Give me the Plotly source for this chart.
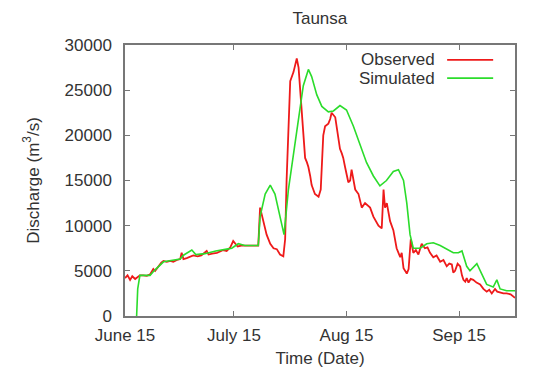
import pandas as pd
import plotly.graph_objects as go

start_date = "2010-06-15"

obs_day = [0, 0.7, 1.4, 2, 2.8, 3.5, 4.1, 5, 6, 6.9, 7.8, 8.3, 9.2, 10, 10.6, 11.5, 12.5, 13.3, 14.3, 15.2,
           15.6, 16.1, 17, 18, 18.8, 20, 21, 22.5, 23, 24, 25.3, 26.5, 27, 28, 29, 29.8, 30.3, 31, 32, 33.5,
           35, 36.7, 37.2, 38.1, 39, 40, 40.9, 41.8, 42.7, 43.6, 44.1, 44.5, 45.5, 46.4, 47.3, 47.8, 48.7,
           49.6, 50.1, 50.5, 51, 51.4, 52.3, 53.3, 53.9, 54.6, 55.1, 56, 56.5, 56.9, 57.9, 58.8, 59.2, 59.7,
           60.1, 60.6, 61.5, 62, 62.4, 63.4, 64.3, 65.2, 66.1, 67.5, 68.4, 69.8, 70.7, 71.2, 71.6, 72.1, 73,
           73.9, 74.8, 75.8, 76.2, 76.7, 77.6, 78.1, 78.7, 79.4, 80.1, 80.8, 81.7, 82.6, 83.3, 84, 84.9, 85.8,
           86.8, 87.7, 88.6, 89.3, 90, 90.4, 90.9, 91.6, 92.3, 92.8, 93.2, 93.7, 94.1, 94.6, 95.2, 95.9, 96.8,
           97.8, 98.7, 99.6, 100.3, 101, 101.9, 102.5, 103.3, 104.2, 105.1, 106.2, 107.4]
obs_val = [4200, 4500, 4000, 4400, 4100, 4300, 4500, 4500, 4450, 4600, 5200, 5000, 5500, 5900, 6100, 6000, 6100, 6000, 6200, 6300,
           7000, 6300, 6400, 6600, 6700, 6600, 6700, 7200, 6800, 6900, 7000, 7200, 7300, 7200, 7600, 8300, 8000, 7700, 7800, 7800,
           7800, 7800, 12000, 10500, 9000, 8000, 7500, 7400, 6800, 6600, 8500, 15000, 26000, 27000, 28500, 27500, 22000,
           17500, 17000, 16500, 15500, 14500, 13500, 13200, 14000, 20000, 21000, 21300, 21800, 22500, 22000, 19500, 18500, 18000,
           17500, 16500, 14800, 15000, 16200, 14000, 13500, 12000, 12500, 12000, 11000, 10000, 9700, 14000, 12000, 12500, 10500,
           9500, 7500, 6500, 7000, 5300, 4700, 5200, 8500, 7000, 7300, 6800, 8000, 7500, 7600, 7000, 6500, 6700,
           6000, 6200, 5500, 5800, 5700, 4800, 5000, 5800, 5500, 4500, 4000, 3800, 4200, 3700, 4100, 4000, 3700,
           3500, 3000, 2700, 2900, 2500, 3000, 2700, 2600, 2500, 2500, 2400, 2000]

sim_day = [3.2, 3.5, 4.1, 6.9, 8, 10.6, 15.2, 16, 18.4, 19.5, 22, 25, 28, 29.4, 31.2, 33, 36.7, 37.2, 38.6, 40,
           41.3, 42.7, 43.8, 45, 46.4, 47.8, 49.1, 50.5, 51.4, 52.8, 54.2, 56, 57.4, 59.2, 61, 62.9, 64.7, 66.5,
           68.4, 70.2, 72, 73.9, 75.3, 76.7, 77.6, 78.5, 79.4, 81.3, 83.1, 84.9, 86.8, 88.6, 90.4, 91.8, 92.8,
           94.1, 95, 96.9, 98.3, 99.6, 101.4, 102.4, 103.3, 105.1, 107.4]
sim_val = [0, 3000, 4500, 4500, 5000, 6000, 6300, 6700, 7300, 6800, 6900, 7200, 7400, 7500, 8000, 7800, 7800, 11000, 13500, 14500,
           13500, 11000, 9000, 14000, 18000, 22000, 25500, 27300, 26500, 24500, 23200, 22600, 22700, 23300, 22800, 21000, 19000, 17000,
           15500, 14400, 15000, 16000, 16200, 15000, 12500, 9000, 7500, 7500, 8000, 8100, 7800, 7400, 7000, 7000, 7200,
           5500, 5000, 5800, 4500, 3500, 3200, 4000, 3000, 2800, 2800]

tick_dates = ["2010-06-15", "2010-07-15", "2010-08-15", "2010-09-15"]
tick_text = ["June 15", "July 15", "Aug 15", "Sep 15"]
y_ticks = [0, 5000, 10000, 15000, 20000, 25000, 30000]

t0 = pd.Timestamp(start_date)
obs_x = [t0 + pd.Timedelta(days=d) for d in obs_day]
sim_x = [t0 + pd.Timedelta(days=d) for d in sim_day]

RED = "#ee1a1a"
GREEN = "#2bdc2b"
TXT = "#333333"
FONT = "Liberation Sans, Arial, sans-serif"
FS = 17

fig = go.Figure()
fig.add_trace(go.Scatter(x=obs_x, y=obs_val, mode="lines", line=dict(color=RED, width=1.8), name="Observed"))
fig.add_trace(go.Scatter(x=sim_x, y=sim_val, mode="lines", line=dict(color=GREEN, width=1.6), name="Simulated"))

axis_common = dict(showline=True, linecolor="#777777", linewidth=1.5, mirror="allticks", ticks="inside",
                   ticklen=5, tickcolor="#777777", showgrid=False, zeroline=False,
                   tickfont=dict(size=FS, color=TXT, family=FONT))

fig.update_layout(
    width=544, height=373,
    margin=dict(l=125, r=29, t=45, b=57),
    paper_bgcolor="white", plot_bgcolor="white",
    showlegend=False,
    title=dict(text="Taunsa", x=0.588, xanchor="center", y=0.952, yanchor="middle",
               font=dict(size=FS, color=TXT, family=FONT)),
    font=dict(family=FONT, color=TXT),
    xaxis=dict(range=[t0, t0 + pd.Timedelta(days=107.4)], tickvals=tick_dates, ticktext=tick_text,
               ticklabelstandoff=3,
               title=dict(text="Time (Date)", font=dict(size=FS, color=TXT, family=FONT), standoff=8),
               automargin=False, **axis_common),
    yaxis=dict(range=[0, 30000], tickvals=y_ticks, tickformat="d", ticklabelstandoff=8,
               title=dict(text="Discharge (m<sup>3</sup>/s)", font=dict(size=FS, color=TXT, family=FONT), standoff=21),
               automargin=False, **axis_common),
)

# legend (text on left, line sample on right, like the original)
legend_items = [("Observed", RED, 0.945), ("Simulated", GREEN, 0.878)]
for name, col, yp in legend_items:
    fig.add_annotation(x=0.800, y=yp, xref="paper", yref="paper", text=name, showarrow=False,
                       xanchor="right", yanchor="middle", font=dict(size=FS, color=TXT, family=FONT))
    fig.add_shape(type="line", xref="paper", yref="paper", x0=0.826, x1=0.944, y0=yp, y1=yp,
                  line=dict(color=col, width=1.8))

fig.write_html("out.html", config={"displayModeBar": False},
               post_script="document.body.style.margin='0px';")
